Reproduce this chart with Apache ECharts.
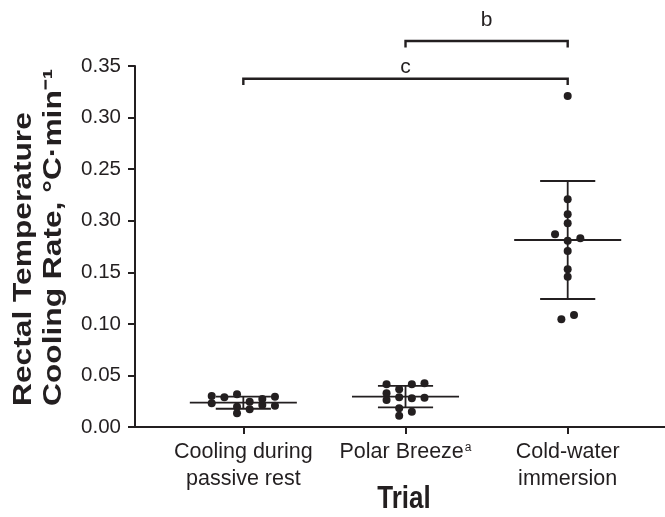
<!DOCTYPE html>
<html><head><meta charset="utf-8">
<script src="https://cdn.jsdelivr.net/npm/echarts@6/dist/echarts.min.js"></script>
<style>html,body{margin:0;padding:0;background:#fff}#c{width:665px;height:517px}</style>
</head><body><div id="c"></div>
<script>
// ---- data ----
const categories = ['Cooling during\npassive rest', 'Polar Breeze', 'Cold-water\nimmersion'];
const categorySup = ['', 'a', ''];
const yTickLabels = ['0.00', '0.05', '0.10', '0.15', '0.30', '0.25', '0.30', '0.35'];
const xTitle = 'Trial';
const yTitle = ['Rectal Temperature', 'Cooling Rate, °C·min⁻¹'];

// individual cooling rates (°C/min) and their beeswarm column index
const passiveValues = [0.0301, 0.0230, 0.0288, 0.0317, 0.0196, 0.0133, 0.0245, 0.0172, 0.0271, 0.0213, 0.0294, 0.0207];
const passiveCols   = [-2.5, -2.5, -1.5, -0.5, -0.5, -0.5, 0.5, 0.5, 1.5, 1.5, 2.5, 2.5];
const polarValues   = [0.0414, 0.0327, 0.0262, 0.0366, 0.0288, 0.0181, 0.0110, 0.0414, 0.0278, 0.0148, 0.0424, 0.0284];
const polarCols     = [-1.5, -1.5, -1.5, -0.5, -0.5, -0.5, -0.5, 0.5, 0.5, 0.5, 1.5, 1.5];
const cwiValues     = [0.3209, 0.2208, 0.2062, 0.1975, 0.1868, 0.1830, 0.1806, 0.1706, 0.1529, 0.1457, 0.1086, 0.1044];
const cwiCols       = [0, 0, 0, 0, -1, 1, 0, 0, 0, 0, 0.5, -0.5];

const means   = [0.0236, 0.0294, 0.1813];
const sdUpper = [0.0294, 0.0398, 0.2385];
const sdLower = [0.0177, 0.0191, 0.1241];

const bracketFrom   = [2, 1];
const bracketTo     = [3, 3];
const bracketLabels = ['b', 'c'];

// ---- styling ----
const INK = '#231f20';
const FONT = '"Liberation Sans", Arial, Helvetica, sans-serif';
const COL_STEP = 0.078;
const MEAN_HALF = 0.33, SD_HALF = 0.17;
const bracketTop  = [0.3742, 0.3377];
const bracketDrop = 0.0062;
const bracketTextY = [0.394, 0.349];

const groups = [[passiveValues, passiveCols], [polarValues, polarCols], [cwiValues, cwiCols]];
const points = [];
groups.forEach(([vals, cols], g) => {
  vals.forEach((v, i) => points.push([g + 1 + cols[i] * COL_STEP, v]));
});

const chart = echarts.init(document.getElementById('c'), null, {renderer: 'canvas'});
const lineSt = {stroke: INK, lineWidth: 1.8, fill: null};

chart.setOption({
  animation: false,
  backgroundColor: '#fff',
  grid: {left: 135, right: 0, top: 66, bottom: 90, containLabel: false},
  xAxis: {
    type: 'value', min: 0.332, max: 3.6,
    splitLine: {show: false},
    axisLine: {show: true, onZero: false, lineStyle: {color: INK, width: 2}},
    axisTick: {show: true, customValues: [1, 2, 3], length: 7, lineStyle: {color: INK, width: 2}},
    axisLabel: {
      customValues: [1, 2, 3], color: INK, fontSize: 21.5, fontFamily: FONT, margin: 12, lineHeight: 27,
      formatter: v => { const i = Math.round(v) - 1; return categories[i] + (categorySup[i] ? '{sup|' + categorySup[i] + '}' : ''); },
      rich: {sup: {fontSize: 12, fontFamily: FONT, color: INK, padding: [0, 0, 9, 1]}}
    }
  },
  yAxis: {
    type: 'value', min: 0, max: 0.35, interval: 0.05,
    splitLine: {show: false},
    axisLine: {show: true, onZero: false, lineStyle: {color: INK, width: 2}},
    axisTick: {show: true, length: 7, lineStyle: {color: INK, width: 2}},
    axisLabel: {color: INK, fontSize: 20.5, fontFamily: FONT, margin: 14,
      formatter: v => yTickLabels[Math.round(v / 0.05)]}
  },
  graphic: [
    {type: 'text', x: 9, y: 406, rotation: Math.PI / 2, scaleX: 1.22, scaleY: 1,
      style: {text: yTitle.join('\n'), fontSize: 26, fontWeight: 'bold', fontFamily: FONT, fill: INK,
        lineHeight: 30, align: 'left', verticalAlign: 'top'}},
    {type: 'text', x: 404, y: 499, scaleX: 1, scaleY: 1.2,
      style: {text: xTitle, fontSize: 26, fontWeight: 'bold', fontFamily: FONT, fill: INK,
        align: 'center', verticalAlign: 'middle'}}
  ],
  series: [
    {
      type: 'custom', clip: false, z: 2,
      data: means.map((m, i) => [i + 1, m, sdLower[i], sdUpper[i]]),
      encode: {x: 0, y: [1, 2, 3]},
      renderItem: (params, api) => {
        const x = api.value(0), m = api.value(1), lo = api.value(2), hi = api.value(3);
        const L = (a, b) => ({type: 'line', shape: {x1: a[0], y1: a[1], x2: b[0], y2: b[1]}, style: lineSt});
        return {type: 'group', children: [
          L(api.coord([x - MEAN_HALF, m]), api.coord([x + MEAN_HALF, m])),
          L(api.coord([x - SD_HALF, hi]), api.coord([x + SD_HALF, hi])),
          L(api.coord([x - SD_HALF, lo]), api.coord([x + SD_HALF, lo])),
          L(api.coord([x, lo]), api.coord([x, hi]))
        ]};
      }
    },
    {
      type: 'scatter', z: 3, symbol: 'circle', symbolSize: 8,
      itemStyle: {color: INK, opacity: 1}, data: points
    },
    {
      type: 'custom', clip: false, z: 2,
      data: bracketFrom.map((f, i) => [f, bracketTo[i], bracketTop[i], bracketTextY[i]]),
      encode: {x: [0, 1], y: [2, 3]},
      renderItem: (params, api) => {
        const i = params.dataIndex;
        const a = api.value(0), b = api.value(1), yt = api.value(2), ty = api.value(3);
        const p0 = api.coord([a, yt - bracketDrop]), p1 = api.coord([a, yt]);
        const p2 = api.coord([b, yt]), p3 = api.coord([b, yt - bracketDrop]);
        const tp = api.coord([(a + b) / 2, ty]);
        return {type: 'group', children: [
          {type: 'polyline', shape: {points: [p0, p1, p2, p3]}, style: {stroke: INK, lineWidth: 2.4, fill: null}},
          {type: 'text', x: tp[0], y: tp[1], style: {text: bracketLabels[i], fontSize: 21, fontFamily: FONT, fill: INK, align: 'center', verticalAlign: 'middle'}}
        ]};
      }
    }
  ]
});
</script></body></html>
